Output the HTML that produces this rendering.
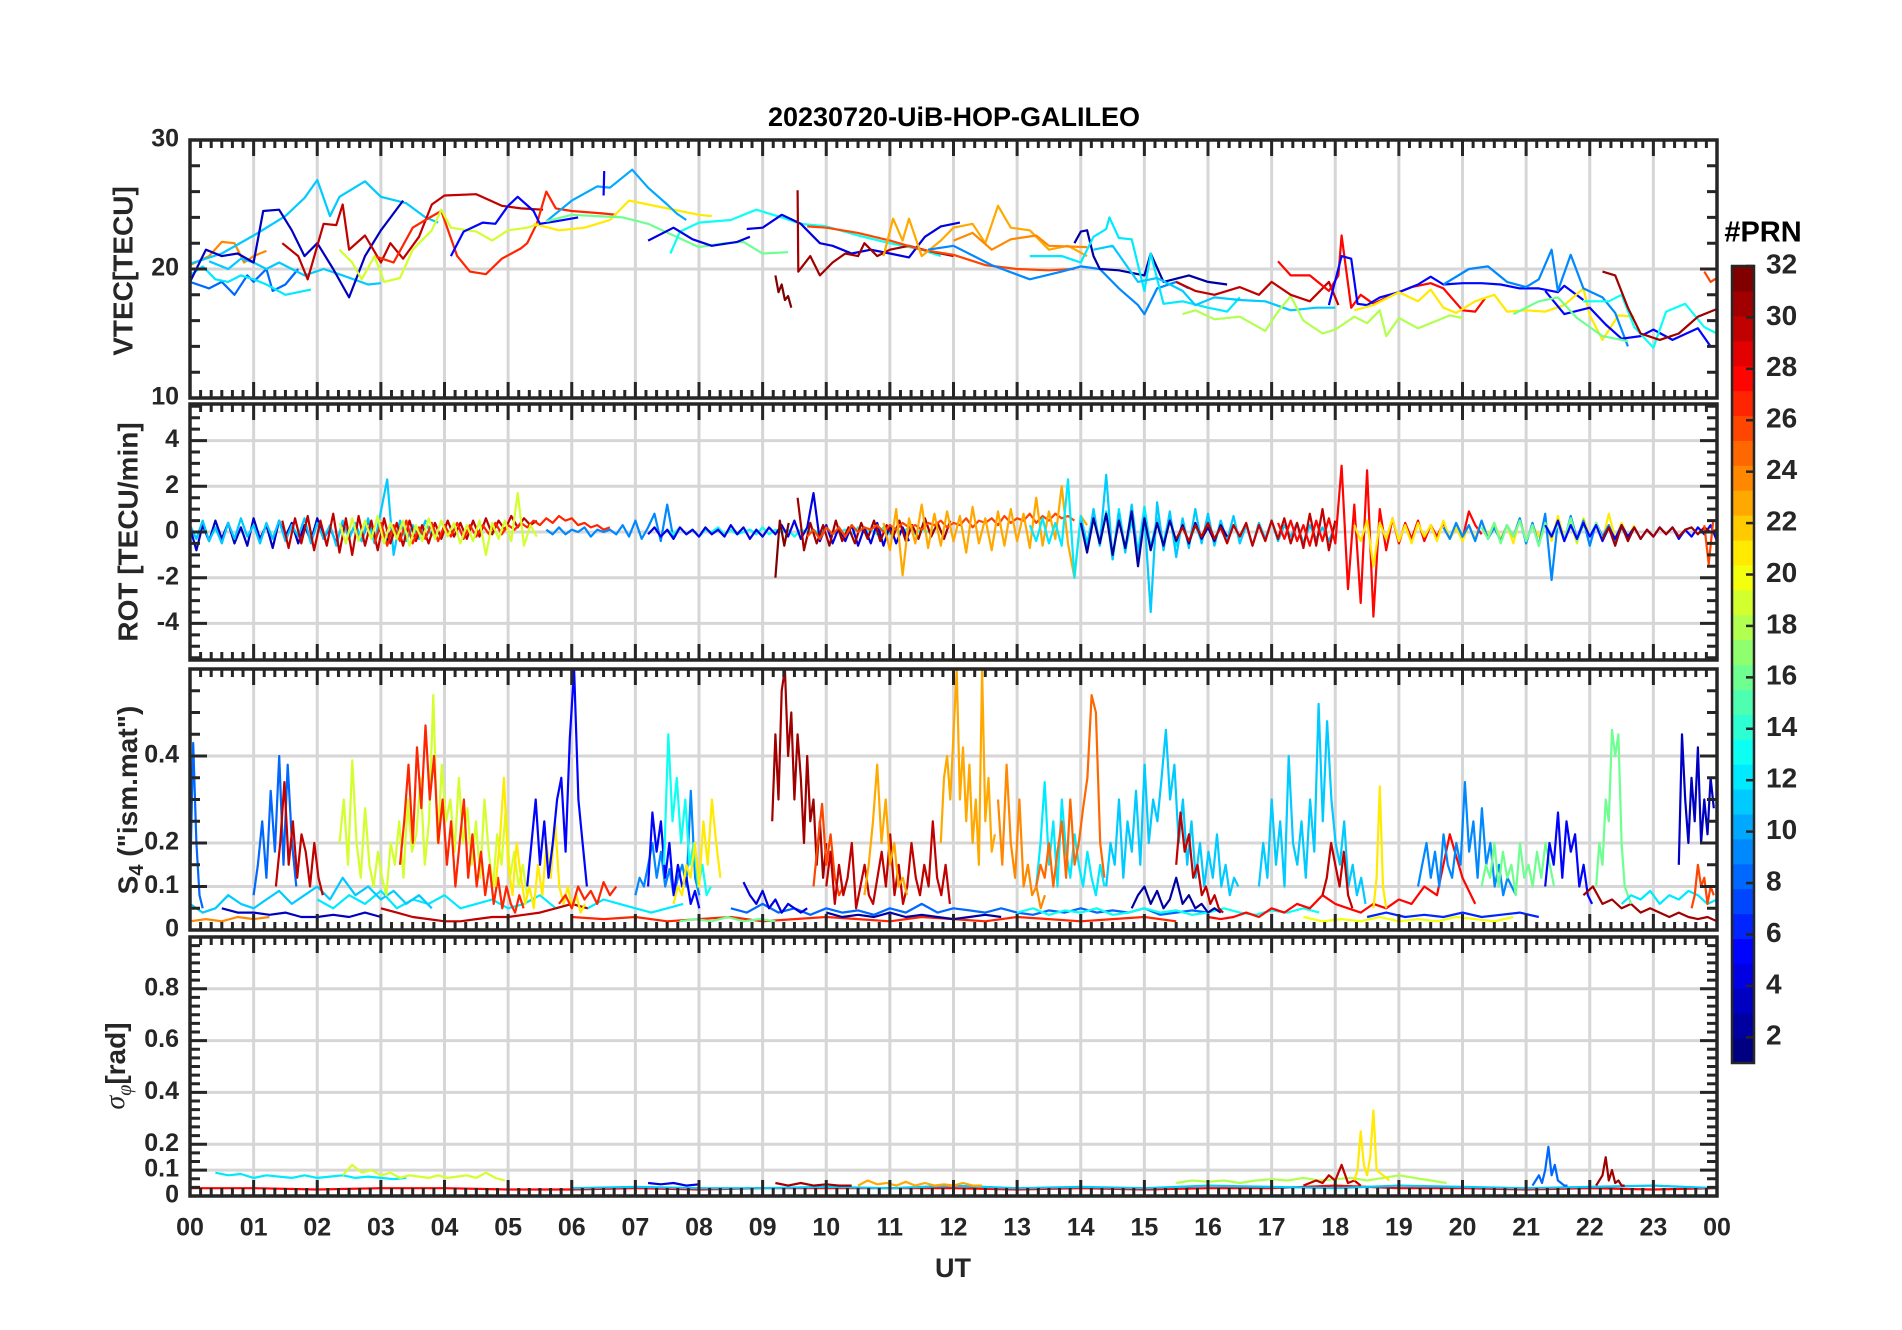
<!DOCTYPE html>
<html><head><meta charset="utf-8"><style>
html,body{margin:0;padding:0;background:#fff;}
svg{display:block;font-family:"Liberation Sans",Arial,sans-serif;}
</style></head><body>
<svg id="chart" xmlns="http://www.w3.org/2000/svg" width="1902" height="1330" viewBox="0 0 1902 1330">
<rect x="0" y="0" width="1902" height="1330" fill="#fff"/>
<text x="954" y="126" text-anchor="middle" font-size="27" font-weight="bold" fill="#000">20230720-UiB-HOP-GALILEO</text>
<g id="grid"></g>
<g id="series"></g>
<g id="axes"></g>
<text x="125" y="271" transform="rotate(-90 125 271)" text-anchor="middle" dominant-baseline="middle" font-size="28" font-weight="bold" fill="#262626">VTEC[TECU]</text>
<text x="130" y="532" transform="rotate(-90 130 532)" text-anchor="middle" dominant-baseline="middle" font-size="28" font-weight="bold" fill="#262626">ROT [TECU/min]</text>
<text x="130" y="800" transform="rotate(-90 130 800)" text-anchor="middle" dominant-baseline="middle" font-size="28" font-weight="bold" fill="#262626">S<tspan font-size="20" dy="8">4</tspan><tspan dy="-8"> ("ism.mat")</tspan></text>
<text x="118" y="1066" transform="rotate(-90 118 1066)" text-anchor="middle" dominant-baseline="middle" font-size="28" font-weight="bold" fill="#262626"><tspan font-style="italic" font-family="Liberation Serif,serif" font-weight="normal">σ</tspan><tspan font-size="20" dy="8" font-style="italic" font-family="Liberation Serif,serif" font-weight="normal">φ</tspan><tspan dy="-8">[rad]</tspan></text>
<text x="953" y="1270" text-anchor="middle" dominant-baseline="middle" font-size="27" font-weight="bold" fill="#262626">UT</text>
<text x="1763" y="234" text-anchor="middle" dominant-baseline="middle" font-size="29" font-weight="bold" fill="#000">#PRN</text>
<g id="cbar"></g>
</svg>
<script>
// ---------- VTEC data: flat [hour, TECU] pairs ----------
const vtec_p11a=[0,20.4,0.5,21.2,1.0,22.6,1.5,24.1,1.8,25.5,2.0,26.9,2.2,24.1,2.35,25.6,2.75,26.8,3.0,25.6,3.4,25.1,3.7,24.0,3.9,23.6];
const vtec_p3a=[0,19.0,0.25,21.5,0.5,21.0,0.75,21.2,1.0,20.5,1.15,24.5,1.4,24.6,1.6,23.0,1.8,21.0,2.0,22.0,2.25,20.0,2.5,17.8,2.75,21.0,3.0,23.0,3.35,25.3];
const vtec_p30a=[1.45,22.0,1.7,21.0,1.85,19.2,2.1,23.5,2.3,23.4,2.4,25.0,2.5,21.5,2.75,22.6,3.0,20.5,3.15,22.0,3.35,20.8,3.6,22.5,3.8,25.0,4.0,25.7,4.5,25.8,4.9,24.9,5.2,24.7,5.55,24.6];
const vtec_p27a=[2.9,21.0,3.2,20.5,3.5,23.2,3.7,23.8,3.95,24.5,4.2,21.0,4.4,19.8,4.65,19.6,4.9,20.8,5.2,21.6,5.3,22.0,5.45,23.5,5.6,26.0,5.75,24.7,6.0,24.5,6.5,24.3,6.7,24.2];
const vtec_p19a=[2.35,21.5,2.55,20.5,2.7,19.2,2.9,21.0,3.05,19.0,3.3,19.3,3.5,21.5,3.8,23.0,3.95,24.6,4.1,23.2,4.5,22.9,4.75,22.2,5.0,23.0,5.3,23.2,5.5,23.5];
const vtec_p21a=[5.4,23.5,5.8,23.0,6.2,23.2,6.6,23.8,6.9,25.3,7.2,25.0,7.6,24.6,8.0,24.2,8.2,24.1];
const vtec_p5a=[4.1,21.0,4.3,22.9,4.6,23.6,4.8,23.5,5.0,24.9,5.15,25.6,5.4,24.5,5.5,23.5,5.75,23.7,6.1,24.0];
const vtec_p10a=[5.6,23.7,6.0,25.3,6.4,26.4,6.6,26.3,6.95,27.7,7.2,26.3,7.5,25.0,7.65,24.3,7.8,23.8];
const vtec_p5b=[6.5,25.7,6.51,27.6];
const vtec_p16a=[5.6,23.7,6.0,24.2,6.4,24.1,6.8,24.0,7.2,23.5,7.6,22.6,8.0,21.7,8.4,22.0,8.7,22.1,9.0,21.2,9.4,21.3];
const vtec_p13a=[7.55,21.2,7.7,22.9,8.0,23.6,8.5,23.8,8.9,24.6,9.3,24.0,9.6,23.5,10.0,23.3,10.5,22.6,11.0,22.0,11.5,21.5,11.8,21.0];
const vtec_p4a=[7.2,22.2,7.6,23.2,7.9,22.3,8.2,21.8,8.6,22.1,8.8,22.5];
const vtec_p4b=[8.75,23.1,9.0,23.2,9.3,24.2,9.6,23.5,9.9,22.0,10.1,21.8,10.4,21.2,10.7,21.5,11.0,21.2,11.3,20.9,11.55,22.5,11.8,23.3,12.1,23.6];
const vtec_p32a=[9.2,19.5,9.25,18.2,9.3,18.8,9.35,17.6,9.4,17.9,9.45,17.0];
const vtec_p31a=[9.55,26.1,9.56,19.8,9.75,21.0,9.9,19.5,10.1,20.5,10.3,21.2,10.5,21.0,10.6,22.0,10.8,21.0,11.0,21.5,11.3,21.8,11.6,21.4,12.0,21.0];
const vtec_p26a=[9.7,23.3,10.0,23.2,10.5,22.8,11.0,22.2,11.5,21.5,12.0,21.1,12.5,20.3,13.0,20.0,13.5,19.9,13.9,20.0];
const vtec_p23a=[10.9,21.0,11.05,23.9,11.2,22.2,11.3,23.9,11.5,21.0,11.8,22.2,12.0,23.2,12.3,23.5,12.5,22.0,12.7,24.9,12.9,23.2,13.2,23.0,13.5,21.5,13.8,21.8,14.1,21.0];
const vtec_p24a=[12.0,22.2,12.3,22.8,12.6,21.5,12.9,22.3,13.3,22.6,13.5,21.8,14.1,21.7];
const vtec_p9a=[11.6,21.5,12.0,21.8,12.6,20.3,13.2,19.2,13.7,19.8,14.0,20.2,14.3,20.0,14.6,18.5,14.9,17.2,15.0,16.5,15.2,18.5,15.5,19.0,15.7,18.5];
const vtec_p2a=[13.9,22.0,14.0,22.9,14.1,23.0,14.2,21.0,14.3,20.0,14.6,19.9,15.0,19.5,15.1,21.2,15.3,19.0,15.7,19.5,16.0,19.0,16.3,18.8];
const vtec_p12a=[13.2,21.0,13.7,21.0,14.0,20.5,14.2,22.5,14.4,23.1,14.45,24.0,14.6,22.4,14.8,22.3,15.0,18.3,15.1,21.2,15.3,17.3,15.6,17.5,16.0,17.0,16.3,16.7,16.5,17.8];
const vtec_p11b=[14.2,21.5,14.5,21.8,14.9,19.0,15.2,19.3,15.6,18.3,15.8,17.2,16.1,17.8,16.5,17.6,16.9,17.5,17.3,16.8,17.7,17.0,18.0,17.0];
const vtec_p18a=[15.6,16.5,15.8,16.8,16.1,16.1,16.5,16.3,16.9,15.2,17.1,16.7,17.3,17.9,17.5,16.0,17.8,15.0,18.0,15.3,18.3,16.3,18.5,15.8,18.7,16.8,18.8,14.8,19.0,16.2,19.3,15.4,19.6,16.0,19.8,16.4,20.0,16.2];
const vtec_p30b=[15.5,19.0,15.8,18.3,16.1,18.0,16.5,18.6,16.8,18.0,17.0,19.0,17.3,18.0,17.6,17.5,17.9,19.0,18.05,17.2];
const vtec_p28a=[17.1,20.6,17.3,19.5,17.6,19.5,17.9,18.3,18.05,19.5,18.1,22.6,18.25,17.0,18.4,18.0,18.6,17.3,18.9,18.0,19.2,18.6,19.5,18.9,19.7,18.5,20.0,16.8,20.2,16.7,20.35,17.7];
const vtec_p5c=[17.9,17.2,18.1,21.0,18.25,20.8,18.35,17.3,18.5,17.2,18.7,17.8,19.0,18.2,19.3,18.8,19.5,19.4,19.7,18.8,20.0,18.9,20.3,18.9,20.6,18.8,20.9,18.5,21.2,18.5,21.5,18.2,21.6,18.7,21.9,17.6];
const vtec_p21b=[18.3,16.8,18.6,17.2,19.0,18.2,19.3,17.5,19.5,18.4,19.7,17.0,19.9,16.6,20.2,17.5,20.5,18.0,20.7,16.7,21.0,16.8,21.3,16.7,21.6,17.2,21.9,18.5,22.0,16.4,22.2,14.5,22.45,16.4,22.7,16.3];
const vtec_p9b=[19.7,18.8,20.1,20.0,20.4,20.2,20.7,19.0,21.0,18.6,21.2,19.2,21.4,21.5,21.5,18.3,21.7,21.1,21.9,18.5,22.2,17.8,22.4,16.6,22.6,14.0];
const vtec_p5d=[21.3,18.3,21.6,16.5,22.0,17.0,22.25,15.7,22.5,14.6,22.8,14.8,23.0,15.3,23.3,14.5,23.7,15.4,23.9,14.0];
const vtec_p16b=[20.8,16.5,21.2,17.5,21.5,17.8,21.8,16.2,22.2,14.8,22.6,14.4];
const vtec_p13b=[21.9,17.5,22.3,17.5,22.5,18.0,22.7,15.5,23.0,13.9,23.2,16.7,23.5,17.3,23.8,15.5,24.0,15.0];
const vtec_p31b=[22.2,19.8,22.4,19.5,22.6,17.0,22.8,15.0,23.1,14.5,23.4,15.0,23.7,16.3,24.0,16.9];
const vtec_p26b=[23.8,19.8,23.9,19.0,24.0,19.3];
const vtec_p24b=[0,20.3,0.3,21.0,0.5,22.1,0.7,22.0,0.85,20.5,1.0,21.0,1.2,21.4];
const vtec_p8a=[0,19.0,0.3,18.5,0.5,19.0,0.7,18.0,0.9,19.5,1.0,19.0,1.2,20.0,1.3,18.3,1.5,18.8,1.7,20.0];
const vtec_p12b=[0,19.5,0.2,20.2,0.4,19.2,0.6,19.0,0.8,19.5,1.0,19.2,1.2,18.8,1.5,18.0,1.9,18.4];
const vtec_p11c=[0.3,20.6,0.6,20.0,0.8,20.8,1.0,20.5,1.2,20.0,1.4,20.5,1.6,20.0,1.8,19.5,2.1,20.0,2.4,19.5,2.8,18.8,3.0,18.9];

// ---------- ROT data ----------
const rot_p3=[0.2,-0.8,0.3,-0.4,0.5,-0.3,0.4,-0.5,0.2,-0.6,0.6,-0.3,0.3,-0.7,0.5,-0.2,0.4,-0.5,0.3,-0.4,0.6,-0.3,0.2,-0.5,0.4,-0.2,0.3,-0.4,0.5,-0.3,0.2,-0.4,0.3];
const rot_p11=[0.3,-0.3,0.5,-0.4,0.2,-0.5,0.4,-0.3,0.6,-0.2,0.3,-0.5,0.4,-0.3,0.5,-0.4,0.3,-0.2,0.6,-0.5,0.4,-0.3,0.3,-0.6,0.5,-0.3,0.4,-0.4,0.6,-0.5,0.9,2.3,-1.0,0.5,-0.4,0.3,-0.3,0.5,-0.2];
const rot_p30=[0.5,-0.7,0.6,-0.5,0.7,-0.8,0.5,-0.6,0.8,-0.9,0.6,-1.0,0.7,-0.6,0.5,-0.8,0.6,-0.5,0.4,-0.6,0.5,-0.4,0.3,-0.5,0.4,-0.3,0.5,-0.2,0.4,-0.3,0.5,-0.2,0.6,-0.1,0.5,0.1,0.7,0.2,0.6,0.3,0.5];
const rot_p27=[-0.5,0.4,-0.6,0.3,-0.4,0.5,-0.5,0.2,-0.3,0.4,-0.4,0.3,-0.2,0.4,-0.3,0.3,-0.2,0.3,-0.1,0.4,-0.1,0.3,0.1,0.4,0.2,0.5,0.3,0.6,0.4,0.7,0.5,0.6,0.3,0.4,0.2,0.3,0.1,0.2];
const rot_p19=[0.4,-0.5,0.6,-0.4,0.5,-0.3,0.7,-0.5,0.4,-0.3,0.5,-0.6,0.3,-0.4,0.6,-0.3,0.5,-0.2,0.4,-0.5,0.3,-0.4,0.5,-1.0,0.4,-0.3,0.5,-0.4,1.7,-0.6,0.3,-0.2];
const rot_p9=[0.1,-0.1,0.2,-0.1,0.1,0.0,0.2,-0.2,0.1,0.0,0.1,-0.1,0.3,-0.2,0.5,-0.3,0.2,0.8,-0.4,1.2,-0.3,0.2];
const rot_p13=[0.1,-0.1,0.2,-0.1,0.1,-0.2,0.1,0.0,0.2,-0.1,0.1,-0.1,0.0,0.1,-0.1,0.2,-0.1,0.1,0.0,0.1,-0.2,0.1,0.0,0.1,-0.1,0.2,-0.1,0.0,0.1,-0.1,0.2,0.0,0.1,-0.1,0.2,-0.1,0.1,0.0,0.2,-0.1,0.1,0.0,0.1];
const rot_p32=[-2.0,0.5,-0.6,0.4];
const rot_p31=[1.5,-0.8,0.4,-0.5,0.3,-0.6,0.5,-0.4,0.2,-0.5,0.4,-0.3,0.5,-0.4,0.3,-0.2,0.5,-0.4,0.3,-0.3,0.6,-0.2,0.4,-0.3,0.5];
const rot_p4=[-0.1,0.2,-0.2,0.1,-0.3,0.2,-0.1,0.1,-0.2,0.2,-0.1,0.1,-0.2,0.3,-0.1,0.2,-0.3,0.1,-0.2,0.2,-0.1,0.3,-0.2,0.5,-0.3,0.2,1.7,-0.4,0.3,-0.5,0.2,-0.4,0.3,-0.6,0.2,-0.5,0.4,-0.6,0.3,-0.5,0.2,-0.4];
const rot_p23=[0.4,-0.8,1.0,-1.9,0.6,-0.5,1.2,-0.7,0.8,-0.6,0.9,-0.4,0.7,-0.9,1.1,-0.5,0.6,-0.8,0.9,-0.6,1.0,-0.4,0.8,-0.7,1.5,-0.6,0.9,-0.3,2.0,-0.5,-2.0,0.7,0.3];
const rot_p26=[-0.2,0.1,-0.3,0.2,-0.1,0.2,-0.2,0.3,0.0,0.2,0.1,0.3,0.0,0.3,0.1,0.4,0.2,0.3,0.1,0.4,0.3,0.5,0.2,0.4,0.3,0.6,0.2,0.5,0.4,0.6,0.3,0.7,0.4,0.6,0.5,0.8,0.4,0.7,0.5,0.8,0.6,0.7,0.5];
const rot_p11b=[0.5,-0.8,1.0,-0.6,2.5,-1.2,0.8,-0.9,1.2,-1.0,0.7,-3.5,1.3,-0.8,0.9,-1.1,0.6,-0.7,1.0,-0.5,0.8,-0.6,0.5,-0.4,0.7,-0.5,0.3,-0.6,0.4,-0.3,0.5,-0.4,0.3,-0.2,0.4,-0.5,0.3,-0.3,0.2,-0.4,0.3];
const rot_p2=[0.4,-0.9,0.6,-0.5,0.8,-1.0,0.5,-0.7,0.9,-1.5,0.6,-0.8,0.4,-0.6,0.5,-0.4,0.3,-0.5,0.4,-0.3,0.2,-0.4,0.3,-0.2];
const rot_p12=[0.3,-0.4,0.6,-0.5,0.4,-0.6,2.3,-2.0,0.7,-0.5,0.8,-0.6,0.9,-1.2,1.0,-0.8,0.5,-0.9,1.1,-0.7,0.6,-0.5,0.8,-0.6,0.4,-0.5,0.3,-0.4,0.5,-0.3,0.2,-0.4,0.3,-0.2];
const rot_p30b=[-0.3,0.2,-0.4,0.3,-0.2,0.4,-0.3,0.2,-0.5,0.3,-0.2,0.4,-0.6,0.3,-0.4,0.5,-0.3,0.6,-0.5,0.4,-0.7,0.8,-0.6,1.0,-0.8,0.5];
const rot_p28=[0.4,-0.3,0.5,-0.4,0.3,-0.6,0.5,-0.4,0.6,-0.5,2.9,-2.5,1.2,-3.1,2.7,-3.7,1.0,-0.8,0.6,-0.5,0.4,-0.3,0.5,-0.4,0.3,-0.2,0.4,-0.3,0.2,-0.3,0.9,0.3,-0.1];
const rot_p21=[0.3,-0.4,0.5,-1.5,0.4,-0.3,0.6,-0.4,0.3,-0.5,0.4,-0.2,0.3,-0.4,0.5,-0.3,0.2,-0.4,0.3,-0.3,0.5,-0.2,0.4,-0.3,0.3,-0.5,0.6,-0.4,0.3,-0.2,0.5,-0.4,0.7,-0.3,0.4,-0.5,0.6,-0.2,0.3,-0.4,0.8,-0.3,0.4,-0.2,0.3];
const rot_p9b=[0.2,-0.3,0.4,-0.2,0.3,-0.4,0.5,-0.3,0.2,-0.4,0.3,-0.2,0.6,-0.5,0.4,-0.6,0.8,-2.1,0.5,-0.4,0.7,-0.3,0.5,-0.6,0.4,-0.2,0.3,-0.4,0.2,-0.3];
const rot_p31b=[-0.3,0.2,-0.6,0.3,-0.4,0.2,-0.3,0.1,-0.2,0.2,-0.1,0.2,-0.2,0.1,0.2,-0.1,0.2,0.0,0.1];
const rot_p5=[0.3,-0.2,0.5,-0.4,0.3,-0.3,0.4,-0.2,0.3,-0.4,0.2,-0.3,0.3,-0.2,0.2,-0.3,0.1,-0.2,0.2,-0.1,0.2,-0.3,0.1,-0.2,0.2,-0.1,0.3,-0.4];
const rot_p16=[0.2,-0.3,0.4,-0.5,0.3,-0.2,0.5,-0.4,0.3,-0.6,0.4,-0.2,0.3,-0.3,0.6,-0.4,0.3,-0.2,0.4,-0.3];
const rot_p26b=[0.3,-1.4,0.5];

// ---------- S4 data ----------
const s4_p8a=[0.1,0.43,0.2,0.08,0.05];
const s4_p8b=[0.08,0.15,0.25,0.12,0.32,0.18,0.40,0.15,0.38,0.2,0.1];
const s4_p30a=[0.1,0.2,0.34,0.15,0.25,0.12,0.22,0.18,0.1,0.2,0.12,0.08];
const s4_p11a=[0.06,0.04,0.05,0.08,0.06,0.05,0.07,0.09,0.06,0.08,0.1,0.07,0.12,0.08,0.1,0.07,0.09,0.06,0.08,0.05];
const s4_p3a=[0.05,0.04,0.04,0.035,0.04,0.03,0.03,0.035,0.03,0.04,0.03];
const s4_p24a=[0.02,0.025,0.02,0.03,0.025,0.03];
const s4_p19a=[0.2,0.3,0.15,0.39,0.2,0.12,0.28,0.15,0.1,0.18,0.12,0.08,0.2,0.15,0.25,0.12,0.3,0.18,0.22,0.35,0.15,0.25,0.54,0.2,0.38,0.25,0.3,0.18,0.35,0.2,0.28,0.15,0.25,0.12,0.3,0.18,0.1,0.22,0.15,0.28,0.12,0.18,0.1,0.15,0.08];
const s4_p27a=[0.15,0.25,0.38,0.2,0.42,0.28,0.47,0.3,0.4,0.2,0.3,0.15,0.25,0.1,0.2,0.3,0.12,0.22,0.1,0.18,0.08,0.15,0.06,0.12,0.05,0.1,0.06,0.04,0.08,0.05];
const s4_p30b=[0.05,0.04,0.03,0.025,0.02,0.02,0.025,0.03,0.03,0.035,0.04,0.05,0.06,0.05];
const s4_p21a=[0.1,0.2,0.35,0.15,0.08,0.2,0.12,0.06,0.1,0.05,0.15,0.08,0.2,0.12,0.25,0.1,0.06,0.1,0.05,0.08,0.04,0.06];
const s4_p5a=[0.1,0.2,0.3,0.15,0.25,0.12,0.2,0.3,0.35,0.18,0.44,0.6,0.3,0.2,0.1];
const s4_p27b=[0.06,0.08,0.05,0.1,0.07,0.09,0.06,0.11,0.08,0.1];
const s4_p5b=[0.1,0.27,0.18,0.25,0.12,0.2,0.08,0.15,0.1,0.12,0.06,0.09,0.05];
const s4_p13a=[0.15,0.45,0.25,0.35,0.2,0.3,0.15,0.2,0.1,0.15,0.08,0.1];
const s4_p9a=[0.08,0.12,0.1,0.15,0.2,0.12,0.18,0.1,0.14,0.08,0.12,0.15,0.1,0.32,0.12,0.08];
const s4_p21b=[0.06,0.1,0.08,0.15,0.12,0.2,0.1,0.25,0.15,0.3,0.2,0.12];
const s4_p16a=[0.02,0.025,0.02,0.03,0.02,0.025,0.02];
const s4_p4a=[0.11,0.08,0.06,0.09,0.05,0.07,0.04,0.06,0.05,0.04,0.05];
const s4_p31a=[0.25,0.45,0.3,0.55,0.6,0.4,0.5,0.3,0.45,0.35,0.2,0.4,0.25,0.3,0.15,0.25,0.12,0.2];
const s4_p30c=[0.1,0.18,0.06,0.15,0.08,0.12,0.2,0.05,0.1,0.15,0.08,0.06,0.12,0.18,0.1,0.22,0.08,0.15,0.06,0.1,0.2,0.12,0.08,0.15,0.1,0.25,0.12,0.08,0.15,0.06];
const s4_p26a=[0.1,0.2,0.29,0.15,0.22,0.12,0.08,0.1];
const s4_p23a=[0.08,0.15,0.25,0.38,0.2,0.3,0.15,0.2,0.1,0.12,0.08];
const s4_p23b=[0.2,0.35,0.4,0.3,0.45,0.6,0.3,0.42,0.25,0.38,0.2,0.3,0.15,0.6,0.25,0.35,0.18,0.22];
const s4_p24b=[0.3,0.15,0.38,0.2,0.12,0.3,0.1,0.15,0.08,0.1,0.05,0.08];
const s4_p25a=[0.1,0.15,0.12,0.2,0.1,0.18,0.25,0.12,0.3,0.15,0.2,0.28,0.35,0.54,0.5,0.2,0.12];
const s4_p12a=[0.1,0.2,0.34,0.15,0.25,0.1,0.3,0.18,0.12,0.22,0.15,0.1,0.18,0.12,0.08,0.15,0.1];
const s4_p11b=[0.1,0.2,0.15,0.3,0.12,0.25,0.18,0.32,0.15,0.38,0.2,0.3,0.25,0.35,0.46,0.3,0.38,0.2,0.3,0.15,0.25,0.12,0.2,0.1,0.18,0.12,0.22,0.1,0.15,0.08,0.12,0.1];
const s4_p11c=[0.1,0.2,0.12,0.3,0.15,0.25,0.1,0.4,0.2,0.15,0.25,0.12,0.3,0.18,0.52,0.25,0.48,0.3,0.2,0.15,0.25,0.1,0.15,0.08,0.12,0.06];
const s4_p2a=[0.05,0.08,0.1,0.06,0.09,0.05,0.07,0.12,0.06,0.08,0.05,0.06,0.04,0.05,0.04];
const s4_p30d=[0.15,0.27,0.18,0.22,0.12,0.15,0.08,0.1,0.06,0.08,0.05,0.04];
const s4_p30e=[0.08,0.12,0.2,0.15,0.1,0.18,0.08,0.05];
const s4_p28a=[0.03,0.025,0.03,0.04,0.03,0.05,0.04,0.06,0.05,0.08,0.06,0.05,0.04,0.06,0.05,0.07,0.06,0.1,0.08,0.22,0.12,0.06];
const s4_p21c=[0.05,0.12,0.33,0.1,0.05];
const s4_p9b=[0.1,0.15,0.2,0.12,0.18,0.1,0.22,0.15,0.12,0.2,0.15,0.34,0.18,0.25,0.12,0.28,0.15,0.2,0.1,0.15,0.08,0.12,0.1,0.08];
const s4_p16b=[0.1,0.15,0.12,0.2,0.1,0.18,0.12,0.15,0.08,0.2,0.12,0.15,0.1,0.18,0.12,0.2,0.15,0.1];
const s4_p16c=[0.1,0.2,0.15,0.3,0.25,0.46,0.4,0.45,0.2,0.1,0.08,0.06];
const s4_p5c=[0.1,0.2,0.15,0.27,0.12,0.25,0.18,0.22,0.1,0.15,0.08,0.06];
const s4_p3b=[0.15,0.45,0.3,0.2,0.35,0.25,0.42,0.2,0.3,0.22,0.35,0.28];
const s4_p26b=[0.05,0.08,0.15,0.1,0.12,0.06,0.1,0.08];
const s4_p31b=[0.08,0.1,0.06,0.07,0.05,0.06,0.04,0.05,0.04,0.03,0.04,0.03,0.025,0.03,0.02];
const s4_p20a=[0.03,0.02,0.025,0.02,0.03,0.02,0.025,0.02,0.03,0.025,0.02,0.03];
const s4_p6a=[0.03,0.04,0.03,0.035,0.03,0.04,0.03,0.035,0.04,0.03];
const s4_p12b=[0.06,0.08,0.07,0.09,0.06,0.08,0.07,0.09,0.08,0.06,0.07];
const s4_p12c=[0.07,0.05,0.08,0.06,0.09,0.05,0.07,0.06,0.08,0.05,0.06,0.07,0.05,0.06,0.08,0.05,0.06,0.05,0.07,0.06,0.05,0.04,0.05,0.06];
const s4_p8c=[0.05,0.04,0.06,0.04,0.05,0.035,0.05,0.04,0.045,0.035,0.05,0.04,0.06,0.04,0.05,0.045,0.04,0.05,0.04,0.035,0.045,0.04,0.05,0.04,0.045,0.04,0.05,0.035,0.04,0.045,0.04];
const s4_p27c=[0.03,0.025,0.03,0.02,0.025,0.03,0.02,0.025,0.03,0.025,0.02,0.03,0.025,0.02,0.03,0.025,0.02,0.025,0.03,0.02];
const s4_p13c=[0.04,0.05,0.035,0.045,0.04,0.05,0.035,0.04,0.05,0.04,0.045,0.035,0.04,0.05,0.04,0.035,0.045,0.04,0.05,0.04];
const s4_p2b=[0.04,0.03,0.035,0.03,0.04,0.03,0.035,0.03,0.025,0.03,0.035,0.03];

// ---------- sigma-phi data ----------
const sig_p12=[0.09,0.08,0.085,0.07,0.08,0.075,0.07,0.08,0.07,0.075,0.08,0.07,0.075,0.07,0.065,0.07];
const sig_p19=[0.08,0.12,0.09,0.1,0.08,0.09,0.07,0.08,0.075,0.07,0.08,0.07,0.075,0.08,0.07,0.09,0.07,0.06];
const sig_p28=[0.03,0.03,0.025,0.03,0.03,0.025,0.025,0.03,0.025,0.03,0.03,0.03,0.03,0.025,0.03,0.025,0.03,0.03,0.04,0.03,0.03,0.025,0.03,0.025,0.03];
const sig_p11=[0.03,0.035,0.03,0.03,0.035,0.03,0.04,0.03,0.035,0.03,0.04,0.035,0.03,0.04,0.035,0.03,0.035,0.04,0.03];
const sig_p31=[0.05,0.04,0.05,0.04,0.045,0.04,0.04];
const sig_p23=[0.04,0.06,0.045,0.05,0.04,0.055,0.04,0.05,0.04,0.045,0.04,0.05,0.04,0.04];
const sig_p18=[0.05,0.06,0.055,0.06,0.05,0.06,0.065,0.06,0.07,0.06,0.065,0.07,0.06,0.07,0.08,0.07,0.06,0.05];
const sig_p21=[0.06,0.1,0.25,0.12,0.08,0.15,0.33,0.1,0.09,0.08,0.07,0.06];
const sig_p30=[0.04,0.05,0.06,0.05,0.08,0.06,0.12,0.05,0.06,0.04];
const sig_p8=[0.04,0.06,0.08,0.05,0.1,0.19,0.08,0.12,0.06,0.05,0.04,0.04];
const sig_p31b=[0.04,0.06,0.08,0.15,0.06,0.1,0.05,0.06,0.04,0.04];
const sig_p4=[0.05,0.045,0.05,0.04,0.045];

const vtecList=[[vtec_p24b,24],[vtec_p8a,8],[vtec_p12b,12],[vtec_p11c,11],[vtec_p11a,11],[vtec_p3a,3],[vtec_p30a,30],[vtec_p27a,27],[vtec_p19a,19],[vtec_p21a,21],[vtec_p5a,5],[vtec_p10a,10],[vtec_p5b,5],[vtec_p16a,16],[vtec_p13a,13],[vtec_p4a,4],[vtec_p4b,4],[vtec_p32a,32],[vtec_p31a,31],[vtec_p26a,26],[vtec_p23a,23],[vtec_p24a,24],[vtec_p9a,9],[vtec_p2a,2],[vtec_p12a,12],[vtec_p11b,11],[vtec_p18a,18],[vtec_p30b,30],[vtec_p28a,28],[vtec_p5c,5],[vtec_p21b,21],[vtec_p9b,9],[vtec_p5d,5],[vtec_p16b,16],[vtec_p13b,13],[vtec_p31b,31],[vtec_p26b,26]];
const rotList=[[rot_p3,3,0,0.1],[rot_p11,11,0,0.1],[rot_p30,30,1.45,0.1],[rot_p27,27,2.9,0.1],[rot_p19,19,2.35,0.1],[rot_p9,9,5.6,0.1],[rot_p13,13,7.5,0.1],[rot_p4,4,7.2,0.1],[rot_p32,32,9.2,0.07],[rot_p31,31,9.55,0.1],[rot_p26,26,9.7,0.1],[rot_p23,23,10.9,0.1],[rot_p12,12,13.2,0.1],[rot_p11b,11,14.0,0.1],[rot_p2,2,14.0,0.1],[rot_p30b,30,15.5,0.1],[rot_p28,28,17.1,0.1],[rot_p21,21,18.3,0.1],[rot_p9b,9,19.7,0.1],[rot_p16,16,20.3,0.1],[rot_p5,5,21.3,0.1],[rot_p31b,31,22.2,0.1],[rot_p26b,26,23.8,0.07]];
const s4List=[[s4_p12c,12,2.0,0.25],[s4_p8c,8,8.5,0.25],[s4_p27c,27,6.0,0.5],[s4_p13c,13,13.0,0.25],[s4_p2b,2,10.0,0.25],[s4_p24a,24,0,0.25],[s4_p3a,3,0.5,0.25],[s4_p11a,11,0,0.2],[s4_p8a,8,0,0.05],[s4_p8b,8,1.0,0.067],[s4_p30a,30,1.35,0.067],[s4_p30b,30,3.0,0.25],[s4_p19a,19,2.35,0.067],[s4_p27a,27,3.3,0.067],[s4_p21a,21,4.8,0.067],[s4_p5a,5,5.3,0.067],[s4_p27b,27,5.8,0.1],[s4_p9a,9,7.0,0.067],[s4_p5b,5,7.2,0.067],[s4_p13a,13,7.45,0.067],[s4_p21b,21,7.6,0.067],[s4_p16a,16,7.7,0.25],[s4_p4a,4,8.7,0.1],[s4_p31a,31,9.15,0.05],[s4_p26a,26,9.8,0.067],[s4_p30c,30,10.0,0.067],[s4_p23a,23,10.6,0.067],[s4_p23b,23,11.8,0.05],[s4_p24b,24,12.7,0.067],[s4_p12a,12,13.3,0.067],[s4_p25a,25,13.3,0.067],[s4_p2a,2,14.8,0.1],[s4_p11b,11,14.4,0.067],[s4_p30d,30,15.5,0.067],[s4_p28a,28,16.0,0.2],[s4_p11c,11,16.8,0.067],[s4_p30e,30,17.8,0.067],[s4_p20a,20,17.5,0.3],[s4_p6a,6,18.5,0.3],[s4_p21c,21,18.6,0.05],[s4_p9b,9,19.3,0.067],[s4_p16b,16,20.3,0.067],[s4_p5c,5,21.3,0.067],[s4_p31b,31,21.9,0.15],[s4_p16c,16,22.1,0.05],[s4_p12b,12,22.5,0.15],[s4_p3b,3,23.4,0.05],[s4_p26b,26,23.6,0.05]];
const sigList=[[sig_p28,28,0,1],[sig_p11,11,6,1],[sig_p12,12,0.4,0.2],[sig_p19,19,2.4,0.15],[sig_p4,4,7.2,0.2],[sig_p31,31,9.2,0.2],[sig_p23,23,10.5,0.15],[sig_p18,18,15.5,0.25],[sig_p30,30,17.5,0.1],[sig_p21,21,18.3,0.05],[sig_p8,8,21.1,0.05],[sig_p31b,31,22.1,0.05]];

const hourLabels=["00","01","02","03","04","05","06","07","08","09","10","11","12","13","14","15","16","17","18","19","20","21","22","23","00"];
const vtecTicks=[10,20,30], rotTicks=[-4,-2,0,2,4], s4Ticks=[0,0.1,0.2,0.4], sigTicks=[0,0.1,0.2,0.4,0.6,0.8];
const cbarTicks=[2,4,6,8,10,12,14,16,18,20,22,24,26,28,30,32];

const NS="http://www.w3.org/2000/svg";
const X0=190, X1=1717;
const xs=h=>X0+(X1-X0)*h/24;
const panels=[
 {name:"vtec",top:140,bot:398,min:10,max:30,ticks:vtecTicks,minor:2,lbl:v=>String(v)},
 {name:"rot",top:404,bot:660,min:-5.6,max:5.6,ticks:rotTicks,minor:0.5,lbl:v=>String(v)},
 {name:"s4",top:669,bot:930,min:0,max:0.6,ticks:s4Ticks,minor:0.05,lbl:v=>String(v)},
 {name:"sigma",top:937,bot:1196,min:0,max:1,ticks:sigTicks,minor:1/30,lbl:v=>String(v)}];
panels.forEach(p=>{p.ys=v=>p.bot-(v-p.min)/(p.max-p.min)*(p.bot-p.top);});
function jet(i){const x=(i-1)/31;const f=v=>Math.round(255*Math.max(0,Math.min(1,1.5-Math.abs(v))));return `rgb(${f(4*x-3)},${f(4*x-2)},${f(4*x-1)})`;}
function mk(tag,attrs,parent){const e=document.createElementNS(NS,tag);for(const k in attrs)e.setAttribute(k,attrs[k]);parent.appendChild(e);return e;}
const gGrid=document.getElementById('grid'),gSer=document.getElementById('series'),gAx=document.getElementById('axes'),gCb=document.getElementById('cbar');
const svg=document.getElementById('chart');
const defs=mk('defs',{},svg);
const AX="#262626";

panels.forEach((p,pi)=>{
 const cp=mk('clipPath',{id:'clip'+pi},defs);
 mk('rect',{x:X0,y:p.top,width:X1-X0,height:p.bot-p.top},cp);
 for(let h=1;h<24;h++){const l=mk('line',{x1:xs(h),x2:xs(h),y1:p.top,y2:p.bot,stroke:'#d6d6d6','stroke-width':3},gGrid);
  
  }
 p.ticks.forEach(v=>{const l=mk('line',{x1:X0,x2:X1,y1:p.ys(v),y2:p.ys(v),stroke:'#d6d6d6','stroke-width':3},gGrid);
  
  });
});

function drawPath(pts,color,pi,name){
 const d=pts.map((q,i)=>(i?'L':'M')+q[0].toFixed(1)+' '+q[1].toFixed(1)).join('');
 const e=mk('path',{d:d,fill:'none',stroke:color,'stroke-width':2.2,'stroke-linejoin':'round','clip-path':`url(#clip${pi})`},gSer);
 
 
}
vtecList.forEach(s=>{const a=s[0],pts=[];for(let i=0;i<a.length;i+=2)pts.push([xs(a[i]),panels[0].ys(a[i+1])]);drawPath(pts,jet(s[1]),0,'vtec-prn'+s[1]);});
[[rotList,1,'rot'],[s4List,2,'s4'],[sigList,3,'sigma']].forEach(([list,pi,nm])=>{
 list.forEach(s=>{const a=s[0],pts=a.map((v,i)=>[xs(s[2]+i*s[3]),panels[pi].ys(v)]);drawPath(pts,jet(s[1]),pi,nm+'-prn'+s[1]);});
});

panels.forEach((p,pi)=>{
 const b=mk('rect',{x:X0,y:p.top,width:X1-X0,height:p.bot-p.top,fill:'none',stroke:AX,'stroke-width':3.5},gAx);
 
 
 let d='';
 for(let m=0;m<=144;m++){const x=xs(m/6),L=(m%6===0)?16:8;d+=`M${x} ${p.bot}V${p.bot-L}M${x} ${p.top}V${p.top+L}`;}
 const start=Math.ceil((p.min-1e-9)/p.minor);
 for(let k=start;k*p.minor<=p.max+1e-9;k++){const y=p.ys(k*p.minor);d+=`M${X0} ${y}H${X0+10}M${X1} ${y}H${X1-10}`;}
 p.ticks.forEach(v=>{const y=p.ys(v);d+=`M${X0} ${y}H${X0+17}M${X1} ${y}H${X1-17}`;});
 const t=mk('path',{d:d,stroke:AX,'stroke-width':3,fill:'none'},gAx);
 
 
 p.ticks.forEach(v=>{const tx=mk('text',{x:179,y:p.ys(v),'text-anchor':'end','dominant-baseline':'middle','font-size':25,'font-weight':'bold',fill:AX},gAx);
  tx.textContent=p.lbl(v);
  
  });
});
hourLabels.forEach((s,i)=>{const tx=mk('text',{x:xs(i),y:1229,'text-anchor':'middle','dominant-baseline':'middle','font-size':25,'font-weight':'bold',fill:AX},gAx);
 tx.textContent=s;
 
 });

const CB_T=266,CB_B=1063,CB_L=1732,CB_R=1754;
const cys=v=>CB_B-(v-1)/31*(CB_B-CB_T);
for(let i=1;i<=32;i++){const h=(CB_B-CB_T)/32;const r=mk('rect',{x:CB_L,y:CB_B-i*h,width:CB_R-CB_L,height:h+0.6,fill:jet(i)},gCb);
 
 }
const cbBox=mk('rect',{x:CB_L,y:CB_T,width:CB_R-CB_L,height:CB_B-CB_T,fill:'none',stroke:AX,'stroke-width':2.5},gCb);


cbarTicks.forEach(v=>{const y=cys(v);const l=mk('line',{x1:CB_R-8,x2:CB_R,y1:y,y2:y,stroke:AX,'stroke-width':2.5},gCb);
 
 
 const tx=mk('text',{x:1766,y:y,'dominant-baseline':'middle','font-size':28,'font-weight':'bold',fill:AX},gCb);
 tx.textContent=String(v);
 
 });
</script>
</body></html>
